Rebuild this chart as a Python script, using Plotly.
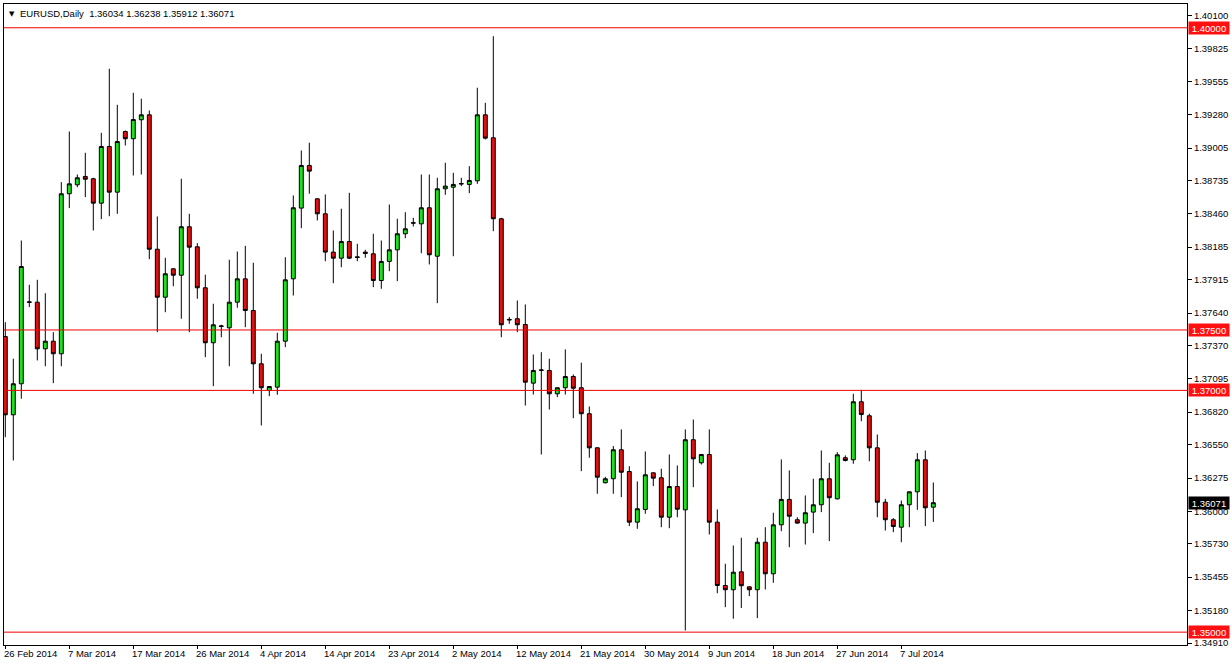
import pandas as pd
import plotly.graph_objects as go

# ---------------- data ----------------
symbol = "EURUSD,Daily"
n_bars = 117
start_date = "2014-02-26"

opens = [1.37446, 1.36798, 1.37055, 1.37728, 1.37730, 1.37344, 1.37407, 1.37303, 1.38627, 1.38701,
         1.38770, 1.38751, 1.38549, 1.39018, 1.38640, 1.39142, 1.39082, 1.39239, 1.39280, 1.38168,
         1.37771, 1.38006, 1.37953, 1.38354, 1.38188, 1.37849, 1.37394, 1.37529, 1.37518, 1.37730,
         1.37923, 1.37661, 1.37220, 1.36999, 1.37027, 1.37407, 1.37923, 1.38508, 1.38861, 1.38585,
         1.38461, 1.38144, 1.38094, 1.38232, 1.38105, 1.38144, 1.38130, 1.37909, 1.38067, 1.38163,
         1.38296, 1.38383, 1.38378, 1.38511, 1.38110, 1.38668, 1.38681, 1.38707, 1.38704, 1.38734,
         1.39280, 1.39090, 1.38420, 1.37582, 1.37593, 1.37545, 1.37060, 1.37165, 1.37165, 1.36972,
         1.37022, 1.37115, 1.37022, 1.36807, 1.36525, 1.36236, 1.36269, 1.36509, 1.36329, 1.35910,
         1.36015, 1.36318, 1.36277, 1.35951, 1.36205, 1.36012, 1.36592, 1.36401, 1.36470, 1.35910,
         1.35386, 1.35351, 1.35499, 1.35375, 1.35351, 1.35744, 1.35483, 1.35888, 1.36098, 1.35930,
         1.35902, 1.35993, 1.36054, 1.36269, 1.36103, 1.36443, 1.36426, 1.36906, 1.36790, 1.36525,
         1.36075, 1.35930, 1.35868, 1.36054, 1.36161, 1.36426, 1.36034]

highs = [1.37564, 1.37262, 1.38240, 1.37874, 1.37915, 1.37804, 1.37482, 1.38723, 1.39142, 1.38786,
         1.38966, 1.38759, 1.39131, 1.39661, 1.39363, 1.39150, 1.39462, 1.39413, 1.39316, 1.38439,
         1.38097, 1.38010, 1.38751, 1.38461, 1.38218, 1.37957, 1.37717, 1.37543, 1.38081, 1.38149,
         1.38196, 1.38056, 1.37303, 1.37035, 1.37477, 1.38102, 1.38613, 1.38985, 1.39049, 1.38590,
         1.38621, 1.38323, 1.38503, 1.38635, 1.38213, 1.38163, 1.38296, 1.38240, 1.38538, 1.38420,
         1.38474, 1.38428, 1.38786, 1.38786, 1.38759, 1.38883, 1.38800, 1.38759, 1.38855, 1.39504,
         1.39379, 1.39930, 1.38428, 1.37606, 1.37744, 1.37711, 1.37297, 1.37316, 1.37262, 1.37025,
         1.37339, 1.37132, 1.37229, 1.36867, 1.36530, 1.36285, 1.36539, 1.36677, 1.36373, 1.36247,
         1.36495, 1.36322, 1.36352, 1.36470, 1.36379, 1.36677, 1.36759, 1.36474, 1.36677, 1.36015,
         1.35566, 1.35717, 1.35781, 1.35380, 1.35781, 1.35868, 1.35988, 1.36429, 1.36338, 1.35951,
         1.36131, 1.36269, 1.36503, 1.36401, 1.36489, 1.36462, 1.36972, 1.37005, 1.36807, 1.36635,
         1.36103, 1.35943, 1.36089, 1.36165, 1.36481, 1.36503, 1.36238]

lows = [1.36613, 1.36420, 1.36931, 1.37689, 1.37248, 1.37200, 1.37060, 1.37200, 1.38508, 1.38681,
        1.38599, 1.38323, 1.38417, 1.38441, 1.38461, 1.39026, 1.38778, 1.38786, 1.38086, 1.37482,
        1.37647, 1.37862, 1.37593, 1.37482, 1.37758, 1.37275, 1.37035, 1.37440, 1.37200, 1.37684,
        1.37523, 1.36972, 1.36710, 1.36952, 1.36964, 1.37358, 1.37785, 1.38342, 1.38627, 1.38406,
        1.38069, 1.37887, 1.38019, 1.38086, 1.38069, 1.38097, 1.37854, 1.37841, 1.37986, 1.37904,
        1.38259, 1.38356, 1.38135, 1.38042, 1.37722, 1.38618, 1.38110, 1.38690, 1.38632, 1.38709,
        1.39076, 1.38317, 1.37440, 1.37551, 1.37482, 1.36875, 1.36966, 1.36470, 1.36842, 1.36944,
        1.36966, 1.36770, 1.36332, 1.36443, 1.36145, 1.36230, 1.36145, 1.36117, 1.35877, 1.35855,
        1.35979, 1.36208, 1.35868, 1.35860, 1.35951, 1.35014, 1.36199, 1.36387, 1.35808, 1.35322,
        1.35207, 1.35111, 1.35200, 1.35298, 1.35116, 1.35353, 1.35408, 1.35835, 1.35703, 1.35897,
        1.35725, 1.35819, 1.35993, 1.35753, 1.36098, 1.36412, 1.36393, 1.36745, 1.36414, 1.35951,
        1.35841, 1.35827, 1.35744, 1.35868, 1.36012, 1.35877, 1.35912]

closes = [1.36798, 1.37055, 1.38025, 1.37732, 1.37344, 1.37407, 1.37303, 1.38627, 1.38709, 1.38759,
          1.38747, 1.38549, 1.39018, 1.38640, 1.39059, 1.39082, 1.39241, 1.39280, 1.38168, 1.37771,
          1.37965, 1.37953, 1.38354, 1.38185, 1.37849, 1.37394, 1.37543, 1.37533, 1.37730, 1.37923,
          1.37661, 1.37220, 1.37022, 1.37032, 1.37407, 1.37915, 1.38511, 1.38861, 1.38814, 1.38461,
          1.38144, 1.38094, 1.38232, 1.38094, 1.38100, 1.38133, 1.37909, 1.38067, 1.38163, 1.38296,
          1.38337, 1.38387, 1.38511, 1.38122, 1.38668, 1.38690, 1.38704, 1.38711, 1.38737, 1.39280,
          1.39087, 1.38420, 1.37543, 1.37587, 1.37543, 1.37068, 1.37165, 1.37169, 1.36972, 1.37022,
          1.37115, 1.37018, 1.36807, 1.36525, 1.36282, 1.36269, 1.36509, 1.36323, 1.35910, 1.36021,
          1.36302, 1.36274, 1.35951, 1.36205, 1.36017, 1.36592, 1.36434, 1.36470, 1.35910, 1.35386,
          1.35351, 1.35496, 1.35384, 1.35351, 1.35744, 1.35483, 1.35888, 1.36098, 1.35959, 1.35902,
          1.35988, 1.36054, 1.36269, 1.36112, 1.36467, 1.36420, 1.36906, 1.36801, 1.36525, 1.36075,
          1.35930, 1.35874, 1.36054, 1.36161, 1.36426, 1.36029, 1.36071]

level_lines = [1.40000, 1.37500, 1.37000, 1.35000]

y_tick_values = [1.40100, 1.39825, 1.39555, 1.39280, 1.39005, 1.38735, 1.38460, 1.38185, 1.37915,
                 1.37640, 1.37370, 1.37095, 1.36820, 1.36550, 1.36275, 1.36000, 1.35730, 1.35455,
                 1.35180, 1.34910]

date_label_days = ["2014-02-26", "2014-03-07", "2014-03-17", "2014-03-26", "2014-04-04",
                   "2014-04-14", "2014-04-23", "2014-05-02", "2014-05-12", "2014-05-21",
                   "2014-05-30", "2014-06-09", "2014-06-18", "2014-06-27", "2014-07-07"]
date_label_text = ["26 Feb 2014", "7 Mar 2014", "17 Mar 2014", "26 Mar 2014", "4 Apr 2014",
                   "14 Apr 2014", "23 Apr 2014", "2 May 2014", "12 May 2014", "21 May 2014",
                   "30 May 2014", "9 Jun 2014", "18 Jun 2014", "27 Jun 2014", "7 Jul 2014"]

# trading calendar of the broker (Sunday to Friday bars)
bar_days = [d.strftime("%Y-%m-%d") for d in
            pd.bdate_range(start_date, periods=n_bars, freq="C",
                           weekmask="Sun Mon Tue Wed Thu Fri")]

# ---------------- styling ----------------
FONT = "Liberation Sans, Arial, sans-serif"
GREEN = "#1fe01f"
RED = "#dd1111"
LEVEL_RED = "#ee0000"
LABEL_RED = "#ff1010"
FS = 9.5

fig = go.Figure()
fig.add_trace(go.Candlestick(
    x=bar_days, open=opens, high=highs, low=lows, close=closes,
    increasing=dict(fillcolor=GREEN, line=dict(color="black", width=1)),
    decreasing=dict(fillcolor=RED, line=dict(color="black", width=1)),
    whiskerwidth=0, showlegend=False, name=symbol, hoverinfo="skip",
))

# horizontal levels drawn as line traces on an overlaid 0..1 x axis spanning the plot
for lv in level_lines:
    fig.add_trace(go.Scatter(x=[0, 1], y=[lv, lv], xaxis="x2", yaxis="y", mode="lines",
                             line=dict(color=LEVEL_RED, width=1), showlegend=False,
                             hoverinfo="skip"))

annotations = []
for lv in level_lines:
    annotations.append(dict(xref="paper", x=1, xanchor="left", xshift=1, yref="y", y=lv,
                            yanchor="middle", text=f"{lv:.5f}", showarrow=False,
                            bgcolor=LABEL_RED, font=dict(color="white", size=FS, family=FONT),
                            width=38, height=10, borderpad=1))

# current price tag
annotations.append(dict(xref="paper", x=1, xanchor="left", xshift=1, yref="y", y=closes[-1],
                        yanchor="middle", text=f"{closes[-1]:.5f}", showarrow=False,
                        bgcolor="black", font=dict(color="white", size=FS, family=FONT),
                        width=38, height=10, borderpad=1))

# header
annotations.append(dict(xref="paper", yref="paper", x=0, y=1, xanchor="left", yanchor="top",
                        xshift=3, yshift=-4, text="▼", showarrow=False,
                        font=dict(color="black", size=7, family="DejaVu Sans")))
annotations.append(dict(xref="paper", yref="paper", x=0, y=1, xanchor="left", yanchor="top",
                        xshift=14, yshift=-2,
                        text=f"{symbol}\u00a0\u00a0{opens[-1]:.5f} {highs[-1]:.5f} "
                             f"{lows[-1]:.5f} {closes[-1]:.5f}",
                        showarrow=False, font=dict(color="black", size=FS, family=FONT)))

# date labels (left aligned at their bar, MT4 style)
for d, t in zip(date_label_days, date_label_text):
    annotations.append(dict(xref="x", yref="paper", x=d, y=0, xanchor="left", yanchor="top",
                            xshift=-3, yshift=-1, text=t, showarrow=False,
                            font=dict(color="black", size=FS, family=FONT)))

fig.update_layout(
    width=1232, height=665,
    margin=dict(l=4, r=45, t=4, b=20, pad=0),
    paper_bgcolor="white", plot_bgcolor="white",
    font=dict(family=FONT, size=FS, color="black"),
    showlegend=False, hovermode=False, dragmode=False,
    annotations=annotations,
    xaxis=dict(type="category", range=[-0.1625, 147.71], rangeslider=dict(visible=False),
               showgrid=False, zeroline=False, showline=True, linecolor="black", linewidth=1,
               mirror=True, ticks="outside", ticklen=3, tickcolor="black",
               tickvals=date_label_days, showticklabels=False, automargin=False,
               fixedrange=True, showspikes=False),
    xaxis2=dict(overlaying="x", range=[0, 1], visible=False, fixedrange=True),
    yaxis=dict(side="right", range=[1.348937, 1.401967], showgrid=False, zeroline=False,
               showline=True, linecolor="black", linewidth=1, mirror=True,
               ticks="outside", ticklen=4, tickcolor="black",
               tickvals=y_tick_values, ticktext=[f"{v:.5f}" for v in y_tick_values],
               tickfont=dict(size=FS, family=FONT, color="black"), automargin=False,
               fixedrange=True, showspikes=False),
)

fig.write_html("out.html",
               config={"staticPlot": True, "displayModeBar": False},
               post_script="document.body.style.margin='0px';"
                           "document.body.style.overflow='hidden';")
